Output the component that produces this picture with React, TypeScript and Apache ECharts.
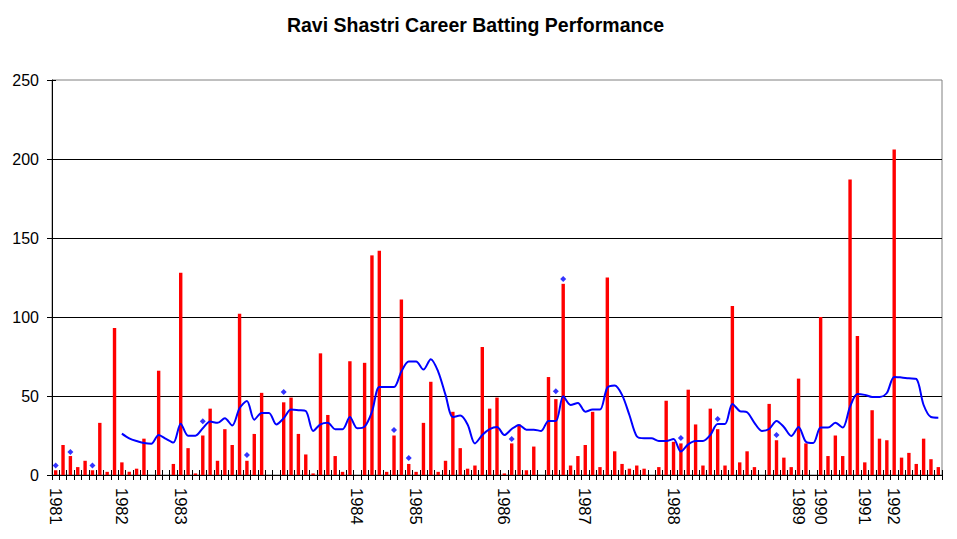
import React, { useEffect, useRef } from "react";
import * as echarts from "echarts";

const TITLE = "Ravi Shastri Career Batting Performance";

// Year label positions: [innings index, year]
const yearMarks: [number, string][] = [
  [0, "1981"], [9, "1982"], [17, "1983"], [41, "1984"], [49, "1985"],
  [61, "1986"], [72, "1987"], [84, "1988"], [101, "1989"], [104, "1990"],
  [110, "1991"], [114, "1992"],
];

// Runs per innings (red bars)
const scores: number[] = [
  3, 19, 12, 5, 9, 3, 33, 2, 93, 8,
  2, 4, 23, 0, 66, 0, 7, 128, 17, 1,
  25, 42, 9, 29, 19, 102, 9, 26, 52, 0,
  0, 46, 49, 26, 13, 1, 77, 38, 12, 2,
  72, 0, 71, 139, 142, 2, 25, 111, 7, 2,
  33, 59, 2, 9, 40, 17, 4, 6, 81, 42,
  49, 1, 20, 32, 3, 18, 0, 62, 48, 121,
  6, 12, 19, 40, 5, 125, 15, 7, 4, 6,
  4, 0, 5, 47, 21, 20, 54, 32, 6, 42,
  29, 6, 107, 8, 15, 5, 0, 45, 22, 11,
  5, 61, 20, 0, 100, 12, 25, 12, 187, 88,
  8, 41, 23, 22, 206, 11, 14, 7, 23, 10,
  5,
];

// Not-out markers (blue dots): [innings index, value]
const notOuts: [number, number][] = [
  [0, 6], [2, 14.6], [5, 6], [20, 34], [26, 12.7], [31, 52.6], [46, 28.5],
  [48, 10.8], [62, 22.8], [68, 53], [69, 124], [85, 23.4], [90, 35.5], [98, 25.3],
];

// Moving average (blue line), starting at innings index 9
const avgStart = 9;
const movingAvg: number[] = [
  26.2, 23.2, 21.5, 20.3, 19.8, 25.3, 22.8, 20.5, 32.5, 24.9,
  24.9, 29.6, 33.8, 33, 35.9, 31.3, 42.2, 46.9, 35, 39.3,
  39.3, 32, 35.9, 41.4, 41, 40.5, 27.9, 32, 33, 29,
  29, 36.7, 29.6, 30.6, 40, 55.7, 55.7, 55.7, 65.5, 71.8,
  71.8, 66.7, 73.3, 65.5, 50.7, 36.7, 37.6, 32, 20, 25.3,
  29, 30.4, 25.3, 29.1, 31.7, 28.7, 28.7, 27.9, 34.2, 34.2,
  49.8, 44.3, 45.6, 40.1, 41.4, 41.4, 55.3, 56.6, 50.7, 38,
  24.5, 23.2, 23.2, 21.5, 21.5, 22.8, 14.8, 19.4, 21.5, 21.5,
  25.3, 32.3, 32.3, 45, 40.5, 39.7, 33, 27.9, 29.1, 34.2,
  30.4, 24.7, 30.4, 21.1, 20.3, 30, 30, 33, 30, 43.3,
  51.3, 50.7, 49.4, 49.4, 51.9, 62.1, 61.7, 61.2, 60.8, 44.3,
  36.7, 36.3,
];

const yMin = 0;
const yMax = 250;
const yStep = 50;

const FONT = "'Liberation Sans', Arial, sans-serif";

export default function App() {
  const ref = useRef<HTMLDivElement>(null);

  useEffect(() => {
    if (!ref.current) return;
    const chart = echarts.init(ref.current, null, { renderer: "svg" });

    const n = scores.length;
    const categories: string[] = Array.from({ length: n }, () => "");
    yearMarks.forEach(([i, y]) => {
      categories[i] = y;
    });
    const lineData: (number | null)[] = Array.from({ length: n }, () => null);
    movingAvg.forEach((v, k) => {
      lineData[avgStart + k] = v;
    });
    const dotData: (number | null)[] = Array.from({ length: n }, () => null);
    notOuts.forEach(([i, v]) => {
      dotData[i] = v;
    });

    chart.setOption({
      animation: false,
      backgroundColor: "#ffffff",
      graphic: [
        {
          type: "text",
          x: 475.5,
          y: 24.5,
          style: {
            text: TITLE,
            fontFamily: FONT,
            fontSize: 19.5,
            fontWeight: "bold",
            fill: "#000000",
            textAlign: "center",
            textVerticalAlign: "middle",
          },
        },
      ],
      grid: {
        left: 52,
        right: 15,
        top: 80,
        bottom: 64,
        show: true,
        borderColor: "#808080",
        borderWidth: 1,
        backgroundColor: "transparent",
      },
      xAxis: [
        {
          type: "category",
          data: categories,
          position: "bottom",
          boundaryGap: true,
          axisLine: { show: true, lineStyle: { color: "#000000", width: 1 } },
          axisTick: {
            show: true,
            interval: 0,
            length: 5,
            inside: false,
            lineStyle: { color: "#000000", width: 1 },
          },
          axisLabel: {
            interval: 0,
            rotate: -90,
            margin: 13,
            fontFamily: FONT,
            fontSize: 16.5,
            color: "#000000",
          },
          splitLine: { show: false },
        },
        {
          type: "category",
          data: categories,
          position: "bottom",
          boundaryGap: true,
          axisLine: { show: false },
          axisTick: {
            show: true,
            interval: 0,
            length: 5,
            inside: true,
            lineStyle: { color: "#000000", width: 1 },
          },
          axisLabel: { show: false },
          splitLine: { show: false },
        },
      ],
      yAxis: [
        {
          type: "value",
          min: yMin,
          max: yMax,
          interval: yStep,
          axisLine: { show: true, lineStyle: { color: "#000000", width: 1 } },
          axisTick: {
            show: true,
            length: 5,
            inside: false,
            lineStyle: { color: "#000000", width: 1 },
          },
          axisLabel: {
            margin: 13,
            fontFamily: FONT,
            fontSize: 16,
            color: "#000000",
          },
          splitLine: {
            show: true,
            showMaxLine: false,
            lineStyle: { color: "#000000", width: 1 },
          },
        },
        {
          type: "value",
          min: yMin,
          max: yMax,
          interval: yStep,
          position: "left",
          axisLine: { show: false },
          axisTick: {
            show: true,
            length: 4,
            inside: true,
            lineStyle: { color: "#000000", width: 1 },
          },
          axisLabel: { show: false },
          splitLine: { show: false },
        },
      ],
      series: [
        {
          type: "bar",
          xAxisIndex: 0,
          yAxisIndex: 0,
          data: scores,
          barWidth: 3.4,
          itemStyle: { color: "#FF0000" },
          z: 2,
        },
        {
          type: "line",
          xAxisIndex: 0,
          yAxisIndex: 0,
          data: lineData,
          symbol: "none",
          smooth: 0.3,
          connectNulls: false,
          lineStyle: { color: "#0000FF", width: 2 },
          z: 3,
        },
        {
          type: "scatter",
          xAxisIndex: 0,
          yAxisIndex: 0,
          data: dotData,
          symbol: "diamond",
          symbolSize: 6,
          itemStyle: { color: "#0000FF" },
          z: 4,
        },
      ],
    });

    return () => {
      chart.dispose();
    };
  }, []);

  return (
    <div
      ref={ref}
      style={{ position: "fixed", left: 0, top: 0, width: 957, height: 539 }}
    />
  );
}
